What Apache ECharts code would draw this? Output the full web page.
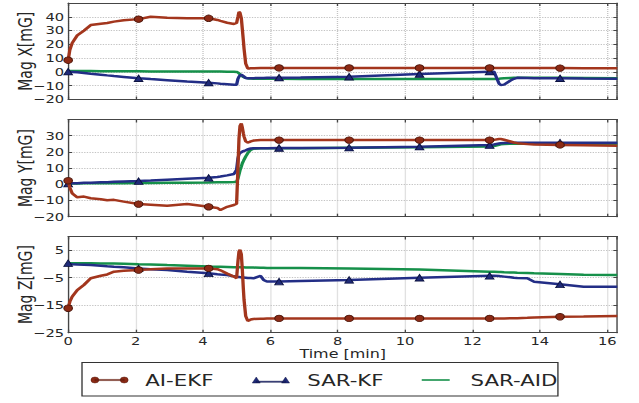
<!DOCTYPE html>
<html>
<head>
<meta charset="utf-8">
<title>Magnetometer bias estimates: AI-EKF vs SAR-KF vs SAR-AID</title>
<script src="https://cdn.jsdelivr.net/npm/echarts@6/dist/echarts.min.js"></script>
<style>
  html, body { margin: 0; padding: 0; background: #fff; overflow: hidden; width: 639px; height: 403px; }
  /* the figure is laid out on a 480px wide canvas and widened to the full 639px page */
  #chart { width: 480px; height: 403px; transform: scaleX(1.33125); transform-origin: 0 0; }
</style>
</head>
<body>
<div id="chart"></div>
<script>
// ---------- data ----------
// sample times [min], shared by every trace
const minutes = [0, 0.05, 0.12, 0.27, 0.47, 0.67, 0.97, 1.16, 1.36, 1.65,
  2.09, 2.45, 2.94, 3.53, 4.17, 4.43, 4.52, 4.72, 4.92, 5.0,
  5.04, 5.07, 5.1, 5.14, 5.17, 5.2, 5.22, 5.27, 5.33, 5.37,
  5.42, 5.5, 5.71, 5.8, 5.9, 6.26, 6.9, 8.34, 10.43, 12.51,
  12.64, 12.79, 12.84, 12.94, 13.13, 13.23, 13.33, 13.63, 13.83, 14.6,
  15.3, 16.3];

// times at which the AI-EKF / SAR-KF markers are drawn
const markerMinutes = [0, 2.09, 4.17, 6.26, 8.34, 10.43, 12.51, 14.6];

// Mag X [mG]
const aiEkfX = [8.5, 16, 21, 26.5, 30, 34, 35, 35.5, 36.5, 37.5,
  38.3, 40, 39.3, 39, 38.9, 37.7, 37, 35.7, 34.8, 35.5,
  40, 43.5, 43, 39, 31, 23, 17, 6, 2.5, 2.5,
  2.6, 2.7, 2.8, 2.8, 2.8, 2.9, 2.9, 2.9, 2.9, 2.9,
  2.9, 2.9, 2.9, 2.9, 2.9, 2.9, 2.9, 2.8, 2.8, 2.8,
  2.7, 2.6];
const sarKfX = [0.2, 0.1, 0, -0.3, -0.8, -1.3, -2, -2.5, -3, -3.6,
  -4.6, -5.2, -6, -7, -7.8, -8.3, -8.5, -8.9, -9.3, -9.3,
  -5, -3.5, -2.5, -2.2, -2.4, -3, -3.5, -4.4, -4.6, -4.6,
  -4.6, -4.5, -4.4, -4.4, -4.3, -4.2, -4.1, -3.5, -1.5, 0.2,
  0.2, -8.5, -9.5, -9.2, -6.2, -5, -4.3, -4.4, -4.5, -4.6,
  -4.8, -5];
const sarAidX = [0.7, 0.7, 0.6, 0.6, 0.6, 0.6, 0.5, 0.5, 0.5, 0.5,
  0.5, 0.4, 0.4, 0.4, 0.3, 0.3, 0.3, 0.2, 0.2, 0,
  -0.4, -1, -1.8, -2.6, -3.2, -3.6, -3.9, -4.3, -4.6, -4.7,
  -4.8, -4.9, -5, -5, -5, -5, -5.1, -5.1, -5.1, -5.1,
  -5.1, -4.9, -4.8, -4.6, -4.4, -4.3, -4.2, -4.2, -4.3, -4.3,
  -4.4, -4.6];

// Mag Y [mG]
const aiEkfY = [2.2, -2, -5.6, -8, -7.6, -8.6, -9.2, -9.8, -9.6, -10.7,
  -12.2, -12.6, -13.3, -12.2, -13.9, -14.6, -15.9, -13.9, -12.8, -12,
  10, 28, 36, 37.5, 35, 31.5, 29.5, 26.5, 25.8, 26,
  26.5, 27, 27.3, 27.3, 27.3, 27.3, 27.3, 27.3, 27.3, 27.3,
  27.4, 28, 28, 27.5, 26.4, 25.8, 25.4, 24.8, 24.5, 24.3,
  24.1, 23.8];
const sarKfY = [0.5, 0.5, 0.6, 0.7, 0.9, 1, 1.2, 1.3, 1.5, 1.7,
  2, 2.3, 2.8, 3.4, 4, 4.5, 4.8, 5.5, 6.4, 9,
  16, 18.5, 19.3, 19.8, 20.2, 20.5, 20.7, 21, 21.5, 21.8,
  22.1, 22.2, 22.3, 22.3, 22.3, 22.4, 22.4, 22.6, 23.2, 24.2,
  24.6, 25.2, 25.4, 25.5, 25.6, 25.6, 25.6, 25.6, 25.6, 25.7,
  25.7, 25.7];
const sarAidY = [0.5, 0.5, 0.5, 0.5, 0.6, 0.6, 0.6, 0.7, 0.7, 0.7,
  0.8, 0.8, 0.9, 1, 1.1, 1.2, 1.2, 1.3, 1.4, 1.6,
  3.5, 6, 8.5, 11, 13, 14.3, 15.2, 17.2, 19.2, 20.2,
  21.3, 22, 22.2, 22.2, 22.2, 22.3, 22.3, 22.5, 22.8, 23.3,
  23.6, 24.4, 24.7, 24.9, 25, 25, 25, 25, 25, 25,
  24.9, 24.8];

// Mag Z [mG]
const aiEkfZ = [-16.1, -13.7, -11.9, -9.5, -7.6, -5.2, -4.3, -3.8, -2.8, -2.5,
  -2.2, -1.9, -1.6, -1.6, -1.6, -1.9, -2.3, -3.5, -4.6, -5.2,
  1, 4.5, 5.2, 3.5, -2, -9, -13, -19, -20.7, -20.5,
  -20.2, -20, -19.9, -19.9, -19.8, -19.8, -19.8, -19.8, -19.8, -19.8,
  -19.8, -19.8, -19.8, -19.8, -19.7, -19.7, -19.7, -19.6, -19.5, -19.2,
  -19.1, -18.9];
const sarKfZ = [0.3, 0, -0.1, -0.2, -0.3, -0.4, -0.6, -0.8, -1, -1.2,
  -1.6, -1.9, -2.2, -2.8, -3.4, -3.7, -3.8, -4, -4.5, -4.6,
  -4.7, -4.7, -4.8, -4.8, -4.9, -4.9, -4.9, -5, -5.1, -5.1,
  -5.1, -5.2, -4.3, -5.8, -6.4, -6.4, -6.2, -5.8, -5, -4.3,
  -4.3, -4.4, -4.5, -4.6, -4.8, -5, -5.1, -5.2, -6.5, -7.4,
  -8.3, -8.3];
const sarAidZ = [0.3, 0.3, 0.3, 0.3, 0.3, 0.3, 0.2, 0.2, 0.2, 0.1,
  -0.1, -0.2, -0.4, -0.6, -0.9, -1, -1, -1.1, -1.2, -1.2,
  -1.2, -1.2, -1.2, -1.2, -1.2, -1.2, -1.2, -1.3, -1.3, -1.3,
  -1.3, -1.3, -1.4, -1.4, -1.5, -1.5, -1.5, -1.6, -2, -2.8,
  -2.8, -2.9, -2.9, -3, -3.1, -3.1, -3.2, -3.3, -3.4, -3.6,
  -3.9, -4];

// axis texts and ranges
const seriesNames = ['AI-EKF', 'SAR-KF', 'SAR-AID'];
const panelTitles = ['Mag X[mG]', 'Mag Y[mG]', 'Mag Z[mG]'];
const panelYMin = [-20, -20, -25];
const panelYMax = [50, 40, 10];
const yTickStep = 10;
const timeMin = 0;
const timeMax = 16.3;
const timeTickStep = 2;
const timeTitle = 'Time [min]';

// ---------- styling ----------
const FONT = 'DejaVu Sans';
const TEXT = '#262626';
const FRAME = '#454545';
const GRIDLINE = '#c4c4c4';
const RED = '#a3361d', RED_MARK = '#8c2a15', RED_EDGE = '#4d160a';
const BLUE = '#232e86', BLUE_MARK = '#1f2a78', BLUE_EDGE = '#0c1240';
const GREEN = '#16904a';

const GRID_LEFT = 51.2, GRID_RIGHT = 16.3;
const panelTop = [3, 119.5, 236.5];
const panelHeight = [96.5, 97.2, 96.2];

const minusSign = v => String(v).replace('-', '\u2212');

const grids = [], xAxes = [], yAxes = [], series = [];

for (let p = 0; p < 3; p++) {
  grids.push({ left: GRID_LEFT, right: GRID_RIGHT, top: panelTop[p], height: panelHeight[p],
    containLabel: false, outerBoundsMode: 'none' });
  const last = p === 2;
  // bottom time axis (with grid lines)
  xAxes.push({
    type: 'value', gridIndex: p, position: 'bottom',
    min: timeMin, max: timeMax, interval: timeTickStep,
    axisLine: { show: true, onZero: false, lineStyle: { color: FRAME, width: 1 } },
    axisTick: { show: true, inside: true, length: 3, lineStyle: { color: FRAME, width: 1 } },
    axisLabel: { show: last, showMaxLabel: false, margin: 3, fontSize: 11, fontFamily: FONT, color: TEXT },
    splitLine: { show: true, lineStyle: { type: 'dotted', color: GRIDLINE, width: 1 } },
    name: last ? timeTitle : '', nameLocation: 'middle', nameGap: 11,
    nameTextStyle: { fontSize: 12, fontFamily: FONT, color: TEXT }
  });
  // top edge of the box
  xAxes.push({
    type: 'value', gridIndex: p, position: 'top',
    min: timeMin, max: timeMax, interval: timeTickStep,
    axisLine: { show: true, onZero: false, lineStyle: { color: FRAME, width: 1 } },
    axisTick: { show: true, inside: true, length: 3, lineStyle: { color: FRAME, width: 1 } },
    axisLabel: { show: false }, splitLine: { show: false }
  });
  // left value axis
  yAxes.push({
    type: 'value', gridIndex: p, position: 'left',
    min: panelYMin[p], max: panelYMax[p], interval: yTickStep,
    axisLine: { show: true, onZero: false, lineStyle: { color: FRAME, width: 1 } },
    axisTick: { show: true, inside: true, length: 3, lineStyle: { color: FRAME, width: 1 } },
    axisLabel: { show: true, showMaxLabel: false, margin: 3, fontSize: 11, fontFamily: FONT, color: TEXT, formatter: minusSign },
    splitLine: { show: true, lineStyle: { type: 'dotted', color: GRIDLINE, width: 1 } },
    name: panelTitles[p], nameLocation: 'middle', nameRotate: 90, nameGap: 25, nameMoveOverlap: false,
    nameTextStyle: { fontSize: 14, fontFamily: FONT, color: TEXT }
  });
  // right edge of the box
  yAxes.push({
    type: 'value', gridIndex: p, position: 'right',
    min: panelYMin[p], max: panelYMax[p], interval: yTickStep,
    axisLine: { show: true, onZero: false, lineStyle: { color: FRAME, width: 1 } },
    axisTick: { show: true, inside: true, length: 3, lineStyle: { color: FRAME, width: 1 } },
    axisLabel: { show: false }, splitLine: { show: false }
  });
}

const panelData = [
  { ai: aiEkfX, kf: sarKfX, aid: sarAidX },
  { ai: aiEkfY, kf: sarKfY, aid: sarAidY },
  { ai: aiEkfZ, kf: sarKfZ, aid: sarAidZ }
];

function trace(name, values, p, opts) {
  return {
    type: 'line', name, xAxisIndex: 2 * p, yAxisIndex: 2 * p,
    data: minutes.map((t, i) => [t, values[i]]),
    showSymbol: !!opts.marker,
    symbol: opts.marker ? (v => markerMinutes.includes(v[0]) ? opts.marker : 'none') : 'none',
    symbolSize: opts.size || 6,
    lineStyle: { color: opts.color, width: 2.5 },
    itemStyle: { color: opts.markColor || opts.color, borderColor: opts.edge || opts.color, borderWidth: 0.8 },
    emphasis: { disabled: true },
    z: opts.z,
    animation: false
  };
}

panelData.forEach((d, p) => {
  series.push(trace(seriesNames[2], d.aid, p, { color: GREEN, z: 2 }));
  series.push(trace(seriesNames[1], d.kf, p, { color: BLUE, marker: 'triangle', size: [6.5, 6.5], markColor: BLUE_MARK, edge: BLUE_EDGE, z: 3 }));
  series.push(trace(seriesNames[0], d.ai, p, { color: RED, marker: 'circle', size: 6.5, markColor: RED_MARK, edge: RED_EDGE, z: 4 }));
});

// legend glyphs: marker - line - marker
const circlePairIcon = 'path://M0,3A3,3 0 1,1 6,3A3,3 0 1,1 0,3Z M22,3A3,3 0 1,1 28,3A3,3 0 1,1 22,3Z M3,2.4L25,2.4L25,3.6L3,3.6Z';
const trianglePairIcon = 'path://M0,6L3,0L6,6Z M22,6L25,0L28,6Z M3,4.2L25,4.2L25,5.3L3,5.3Z';

const legendText = pad => ({ fontSize: 16, fontFamily: FONT, color: TEXT, padding: [0, 0, 0, pad] });
const LEGEND_TOP = 372;

const option = {
  backgroundColor: '#ffffff',
  animation: false,
  grid: grids,
  xAxis: xAxes,
  yAxis: yAxes,
  series,
  legend: [
    { left: 68.1, top: LEGEND_TOP, padding: 0, itemWidth: 28, itemHeight: 6, selectedMode: false,
      data: [{ name: seriesNames[0], icon: circlePairIcon }],
      itemStyle: { color: RED_MARK, borderColor: RED_EDGE, borderWidth: 0.4 },
      textStyle: legendText(7.8) },
    { left: 189.3, top: LEGEND_TOP, padding: 0, itemWidth: 28, itemHeight: 6, selectedMode: false,
      data: [{ name: seriesNames[1], icon: trianglePairIcon }],
      itemStyle: { color: BLUE_MARK, borderColor: BLUE_EDGE, borderWidth: 0.4 },
      textStyle: legendText(8.3) },
    { left: 316.8, top: LEGEND_TOP, padding: 0, itemWidth: 21, itemHeight: 1.6, selectedMode: false,
      data: [{ name: seriesNames[2], icon: 'rect' }],
      itemStyle: { color: GREEN, borderWidth: 0 },
      textStyle: legendText(10.7) }
  ],
  graphic: [
    { type: 'rect', silent: true, z: 0,
      shape: { x: 61.6, y: 362.5, width: 357.5, height: 33.5 },
      style: { fill: 'none', stroke: '#333333', lineWidth: 1 } }
  ]
};

const chart = echarts.init(document.getElementById('chart'), null, { renderer: 'svg' });
chart.setOption(option);
</script>
</body>
</html>
